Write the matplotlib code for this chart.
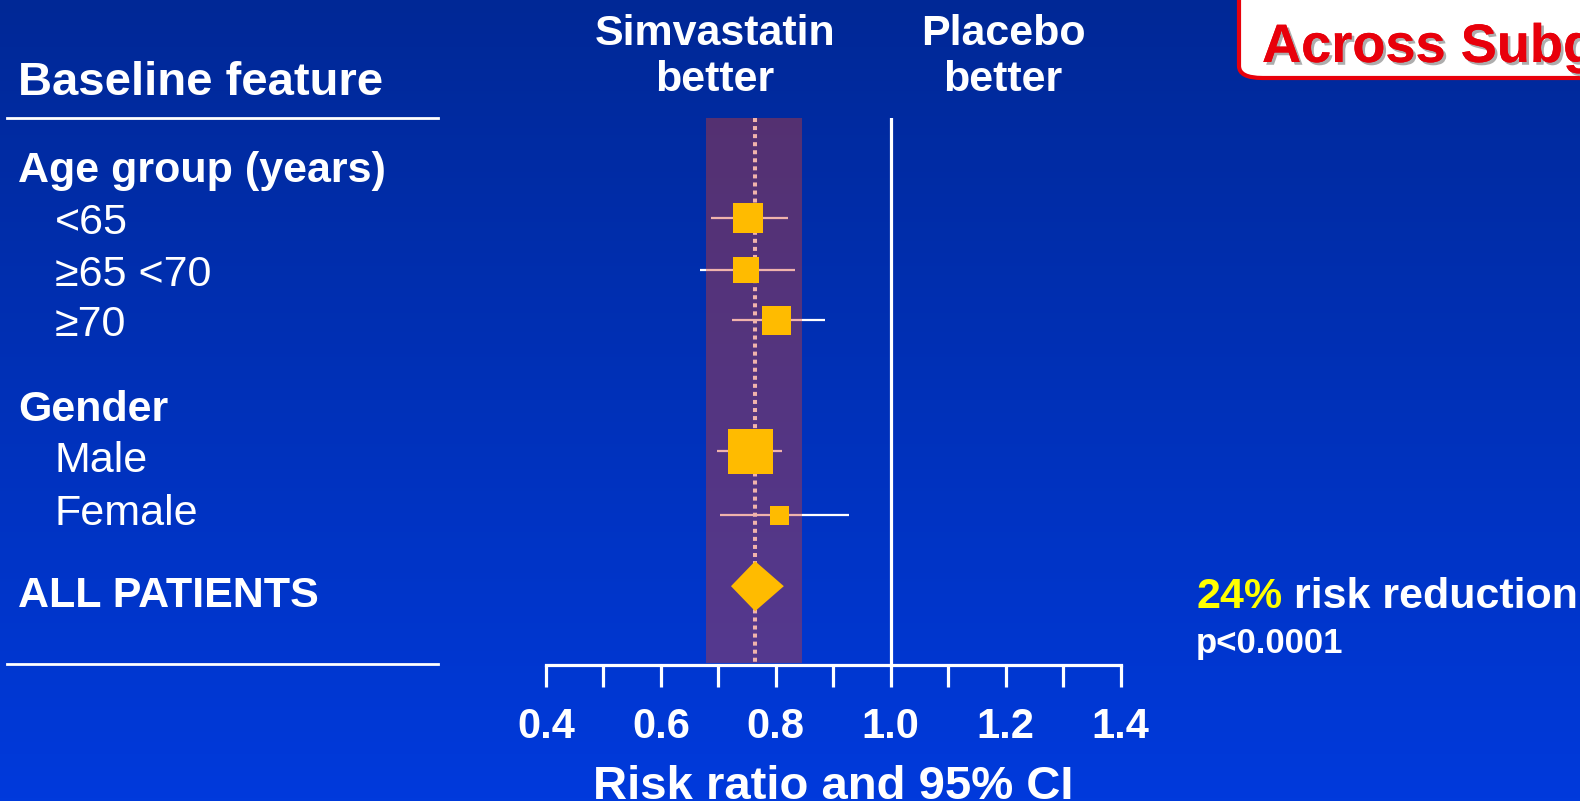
"""
Forest plot of risk ratio by baseline subgroup, simvastatin vs placebo
"""

import numpy as np
import matplotlib
matplotlib.use("Agg")
from matplotlib import pyplot as plt
from matplotlib.patches import FancyBboxPatch, Polygon
from matplotlib.lines import Line2D
from matplotlib.transforms import blended_transform_factory
import matplotlib.patheffects as pe

plt.rcParams["font.family"] = ["Liberation Sans", "DejaVu Sans"]

# Subgroup estimates (risk ratio and 95% CI)
SUBGROUPS = ["<65", "≥65 <70", "≥70", "Male", "Female"]
RISK_RATIO = [0.751, 0.748, 0.800, 0.755, 0.806]
CI_LOW = [0.687, 0.668, 0.724, 0.698, 0.703]
CI_HIGH = [0.821, 0.833, 0.886, 0.811, 0.927]
BOX_PX = [30, 26, 29, 45, 19]

# Overall estimate
ALL_RR = 0.764
ALL_CI = (0.722, 0.814)
BAND = (0.678, 0.846)

# Left hand labels: (text, bold, row)
LABELS = [
    ("Age group (years)", True, 1.03),
    ("<65", False, 2.05),
    ("≥65 <70", False, 3.07),
    ("≥70", False, 4.05),
    ("Gender", True, 5.72),
    ("Male", False, 6.72),
    ("Female", False, 7.76),
    ("ALL PATIENTS", True, 9.38),
]
LABEL_INDENT = [False, True, True, True, False, True, True, False]
MARKER_ROWS = [1.96, 2.98, 3.96, 6.53, 7.78]
ALL_ROW = 9.18

TICKS = np.round(np.arange(0.4, 1.41, 0.1), 1)

W, H = 1580, 801
BG_TOP = np.array([0, 40, 150]) / 255
BG_BOTTOM = np.array([0, 58, 220]) / 255


def fx(px):
    return px / W


def fy(py):
    return 1 - py / H


def main():
    fig = plt.figure(figsize=(W / 100, H / 100), dpi=100)

    # gradient background
    bg = fig.add_axes([0, 0, 1, 1], zorder=-10)
    t = np.linspace(0, 1, 256)[:, None]
    grad = BG_TOP[None, :] * (1 - t) + BG_BOTTOM[None, :] * t
    bg.imshow(grad[:, None, :], aspect="auto", extent=[0, 1, 0, 1])
    bg.axis("off")

    # forest plot axes
    ax = fig.add_axes([fx(546), fy(665), fx(1120.5) - fx(546), fy(118) - fy(665)])
    ax.set_facecolor("none")
    ax.set_xlim(0.4, 1.4)
    ax.set_ylim(547 / 51, 0)

    # CI whiskers and dotted overall line drawn white, tinted by the band on top
    for y, lo, hi in zip(MARKER_ROWS, CI_LOW, CI_HIGH):
        ax.plot([lo, hi], [y, y], color="white", lw=1.6, zorder=2, solid_capstyle="butt")
    ax.plot([ALL_RR, ALL_RR], [0, 547 / 51], color="white", lw=2.9,
            linestyle=(0, (1, 1)), zorder=2, clip_on=False)
    ax.axvspan(BAND[0], BAND[1], ymin=0.003, ymax=1, color=(218 / 255, 60 / 255, 41 / 255),
               alpha=0.39, lw=0, zorder=3)

    ax.axvline(1.0, color="white", lw=2.3, zorder=2)

    for y, rr, size in zip(MARKER_ROWS, RISK_RATIO, BOX_PX):
        ax.plot(rr, y, marker="s", markersize=size * 0.72, color="#ffbb00",
                markeredgewidth=0, zorder=5)

    half_h = 25 / 51
    diamond = Polygon([(ALL_CI[0], ALL_ROW), (ALL_RR, ALL_ROW - half_h),
                       (ALL_CI[1], ALL_ROW), (ALL_RR, ALL_ROW + half_h)],
                      closed=True, facecolor="#ffbb00", edgecolor="none", zorder=5)
    ax.add_patch(diamond)

    for side in ["top", "left", "right"]:
        ax.spines[side].set_visible(False)
    ax.spines["bottom"].set_color("white")
    ax.spines["bottom"].set_linewidth(2.3)
    ax.set_yticks([])
    ax.set_xticks(TICKS)
    ax.set_xticklabels([f"{v:.1f}" if i % 2 == 0 else "" for i, v in enumerate(TICKS)])
    ax.tick_params(axis="x", colors="white", length=16, width=2.3, pad=14,
                   labelsize=30)
    for lab in ax.get_xticklabels():
        lab.set_fontweight("bold")
    ax.set_xlabel("Risk ratio and 95% CI", color="white", fontsize=34,
                  fontweight="bold", labelpad=13)

    # left column
    tr = blended_transform_factory(fig.transFigure, ax.transData)
    for (text, bold, row), indent in zip(LABELS, LABEL_INDENT):
        ax.text(fx(55 if indent else 18), row, text, transform=tr, color="white",
                fontsize=31, fontweight="bold" if bold else "normal",
                va="center", ha="left", clip_on=False)

    fig.text(fx(18), fy(83), "Baseline feature", color="white", fontsize=34,
             fontweight="bold", va="center", ha="left")
    for py in (118, 664):
        fig.add_artist(Line2D([fx(7), fx(438)], [fy(py), fy(py)], color="white",
                              lw=2.0, transform=fig.transFigure))

    fig.text(fx(715), fy(57), "Simvastatin\nbetter", color="white", fontsize=31,
             fontweight="bold", ha="center", va="center", linespacing=1.2)
    fig.text(fx(1003), fy(57), "Placebo\nbetter", color="white", fontsize=31,
             fontweight="bold", ha="center", va="center", linespacing=1.2)

    # result annotation
    fig.text(fx(1196), fy(597), "24%", color="#ffff00", fontsize=31,
             fontweight="bold", va="center", ha="left")
    fig.text(fx(1294), fy(597), "risk reduction", color="white", fontsize=31,
             fontweight="bold", va="center", ha="left")
    fig.text(fx(1196), fy(644), "p<0.0001", color="white", fontsize=25,
             fontweight="bold", va="center", ha="left")

    # title box running off the top right corner
    box = FancyBboxPatch((fx(1239), fy(78)), fx(500), fy(-60) - fy(78),
                         boxstyle="round,pad=0,rounding_size=0.015",
                         transform=fig.transFigure, facecolor="white",
                         edgecolor="#e8000b", lw=3, zorder=5)
    fig.add_artist(box)
    fig.text(fx(1262), fy(62), "Across Subgroups", color="#e8000b", fontsize=39,
             fontweight="bold", va="baseline", ha="left", zorder=6,
             path_effects=[pe.withSimplePatchShadow(offset=(2, -2),
                                                    shadow_rgbFace="#999999",
                                                    alpha=0.8),
                           pe.Normal()])

    fig.savefig("out.png", dpi=100)


if __name__ == "__main__":
    main()
